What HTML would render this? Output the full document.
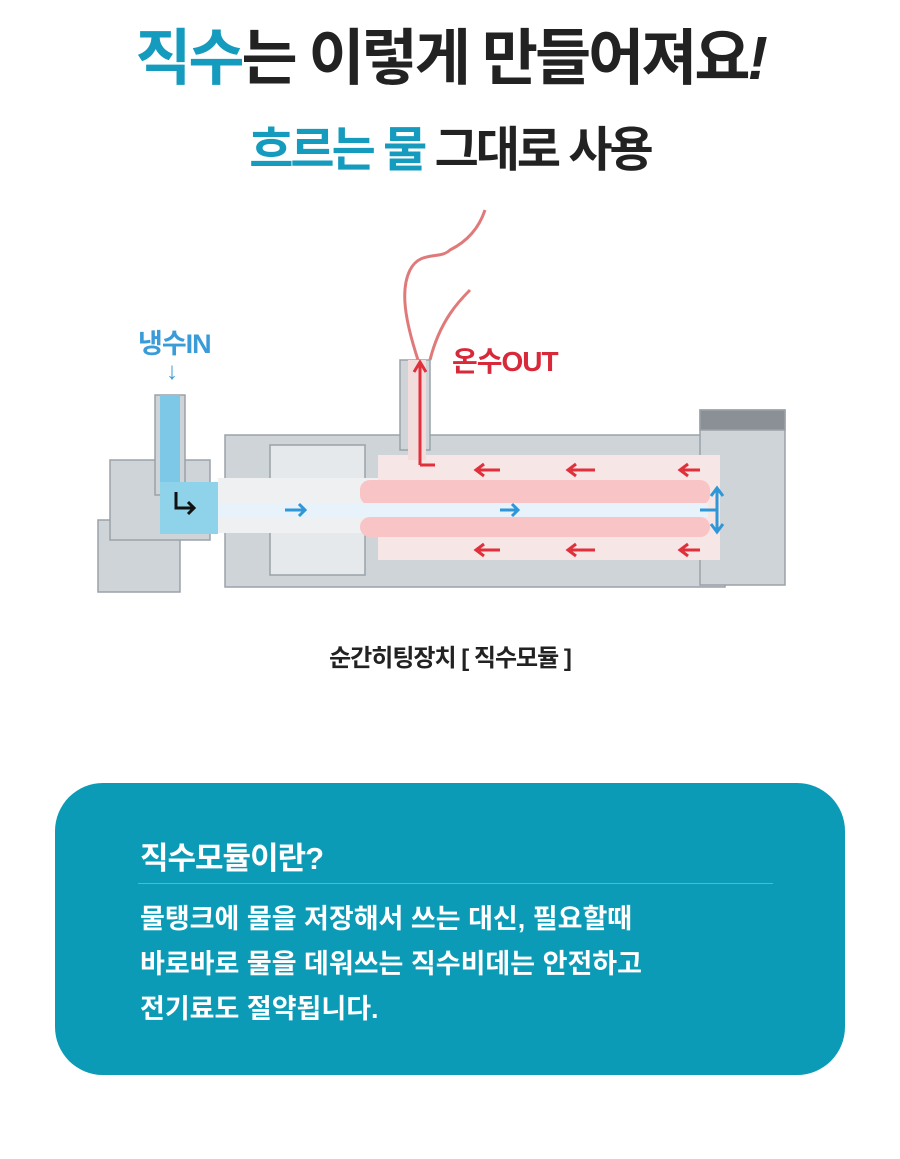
<!DOCTYPE html>
<html><head><meta charset="utf-8"><style>
body{margin:0;width:900px;height:1159px;background:#fff;font-family:"Liberation Sans","Noto Sans CJK KR",sans-serif;position:relative;overflow:hidden}
.t{position:absolute;left:0;width:900px;text-align:center;font-weight:bold;color:#222}
.box{position:absolute;left:55px;top:783px;width:790px;height:292px;background:#0c9bb7;border-radius:48px}
</style></head><body>
<div class="t" style="top:8px;font-size:61px;letter-spacing:-3px"><span style="color:#159bbd">직수</span>는 이렇게 만들어져요<i>!</i></div>
<div class="t" style="top:110px;font-size:48px;letter-spacing:-3px"><span style="color:#159bbd">흐르는 물</span> 그대로 사용</div>
<div style="position:absolute;left:138px;top:322px;font-size:27px;font-weight:bold;color:#3a9bd8;letter-spacing:-1px">냉수IN</div>
<div style="position:absolute;left:166px;top:358px;font-size:24px;color:#3a9bd8">↓</div>
<div style="position:absolute;left:452px;top:340px;font-size:28px;font-weight:bold;color:#d8293a;letter-spacing:-1px">온수OUT</div>
<svg style="position:absolute;left:0;top:0" width="900" height="700">
<path d="M418 360 C405 320 400 290 410 270 C420 250 440 260 450 250 C470 240 480 225 485 210 M430 360 C440 320 460 300 470 290" stroke="#c22" stroke-width="3" fill="none" opacity=".6"/>
<g fill="#cfd4d8" stroke="#9aa2a8" stroke-width="1.5">
<rect x="98" y="520" width="82" height="72"/>
<rect x="110" y="460" width="100" height="80"/>
<rect x="155" y="395" width="30" height="100"/>
<rect x="225" y="435" width="500" height="152"/>
<rect x="400" y="360" width="30" height="90"/>
<rect x="700" y="410" width="85" height="175"/>
<rect x="700" y="410" width="85" height="20" fill="#8a9096"/>
<rect x="270" y="445" width="95" height="130" fill="#e6e9eb"/>
</g>
<rect x="160" y="395" width="20" height="100" fill="#7cc8e6"/>
<rect x="160" y="482" width="58" height="52" fill="#8fd3ea"/>
<rect x="218" y="478" width="160" height="55" fill="#eef0f1"/>
<rect x="378" y="455" width="342" height="105" fill="#f6e6e6"/>
<rect x="408" y="360" width="18" height="100" fill="#f3dcdc"/>
<rect x="360" y="480" width="350" height="25" fill="#f8c4c6" rx="10"/>
<rect x="360" y="517" width="350" height="20" fill="#f8c4c6" rx="10"/>
<rect x="218" y="503" width="490" height="14" fill="#e8f2fa"/>
<g stroke="#e0303c" stroke-width="3" fill="none">
<path d="M420 465 V362 M414 372 L420 362 L426 372 M420 465 H435"/>
<path d="M500 470 H476 M484 464 L476 470 L484 476 M595 470 H568 M576 464 L568 470 L576 476 M700 470 H680 M688 464 L680 470 L688 476"/>
<path d="M500 550 H476 M484 544 L476 550 L484 556 M595 550 H568 M576 544 L568 550 L576 556 M700 550 H680 M688 544 L680 550 L688 556"/>
</g>
<g stroke="#2f97d8" stroke-width="3" fill="none">
<path d="M285 510 H305 M299 504 L305 510 L299 516 M500 510 H518 M512 504 L518 510 L512 516"/>
<path d="M717 490 V530 M711 496 L717 488 L723 496 M711 524 L717 532 L723 524 M700 510 H717"/>
</g>
<path d="M176 492 V508 H194 M188 502 L194 508 L188 514" stroke="#111" stroke-width="3" fill="none"/>
</svg>
<div class="t" style="top:638px;font-size:24px;color:#222;letter-spacing:-1px">순간히팅장치 [ 직수모듈 ]</div>
<div class="box">
<div style="position:absolute;left:85px;top:50px;font-size:31px;font-weight:bold;color:#fff;letter-spacing:-1px">직수모듈이란?</div>
<div style="position:absolute;left:83px;top:100px;width:635px;height:1px;background:#4fb9cf"></div>
<div style="position:absolute;left:85px;top:114px;font-size:27px;font-weight:bold;color:#fff;line-height:45px;letter-spacing:0px">물탱크에 물을 저장해서 쓰는 대신, 필요할때<br>바로바로 물을 데워쓰는 직수비데는 안전하고<br>전기료도 절약됩니다.</div>
</div>
</body></html>
